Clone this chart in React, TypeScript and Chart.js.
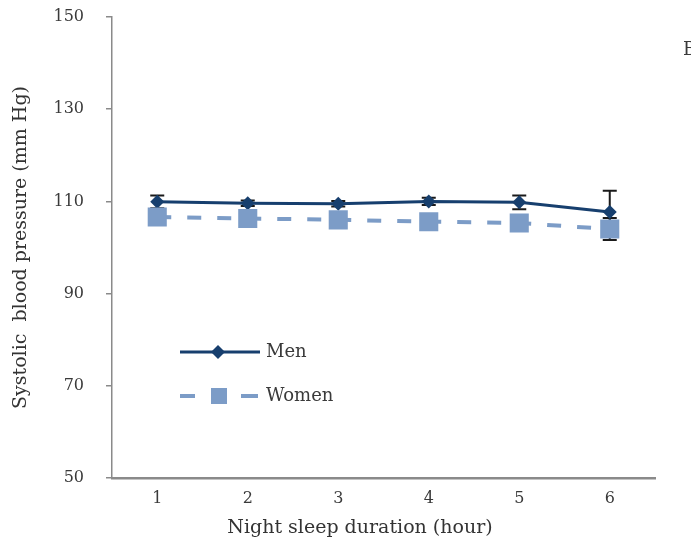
import { useEffect, useRef } from 'react';
import { Chart, registerables } from 'chart.js';

Chart.register(...registerables);

const hours = ['1', '2', '3', '4', '5', '6'];
const menSbp = [109.9, 109.6, 109.5, 110.0, 109.8, 107.7];
const menErr = [1.4, 0.6, 0.6, 0.8, 1.5, 4.6];
const womenSbp = [106.6, 106.3, 106.0, 105.6, 105.3, 104.0];
const womenErr = [1.0, 0.8, 0.8, 0.8, 1.0, 2.4];
const yTicks = [50, 70, 90, 110, 130, 150];

const MEN_COLOR = '#173f6e';
const WOMEN_COLOR = '#7c9cc7';
const FONT = "'DejaVu Serif', serif";

// error bars under the markers
const errorBars = {
  id: 'errorBars',
  beforeDatasetsDraw(chart: any) {
    const { ctx } = chart;
    const x = chart.scales.x;
    const y = chart.scales.y;
    const sets = [
      { vals: menSbp, errs: menErr },
      { vals: womenSbp, errs: womenErr },
    ];
    ctx.save();
    ctx.strokeStyle = '#1a1a1a';
    ctx.lineWidth = 2;
    sets.forEach(s => {
      s.vals.forEach((v, i) => {
        const px = x.getPixelForValue(i);
        const top = y.getPixelForValue(v + s.errs[i]);
        const bot = y.getPixelForValue(v - s.errs[i]);
        ctx.beginPath();
        ctx.moveTo(px, top);
        ctx.lineTo(px, bot);
        ctx.moveTo(px - 7, top);
        ctx.lineTo(px + 7, top);
        ctx.moveTo(px - 7, bot);
        ctx.lineTo(px + 7, bot);
        ctx.stroke();
      });
    });
    ctx.restore();
  },
};

// legend inside the plot, x title, and the cut-off panel letter
const innerLegend = {
  id: 'innerLegend',
  afterDraw(chart: any) {
    const { ctx, chartArea } = chart;
    const left = chartArea.left + 68;
    const menY = chartArea.top + 335;
    const womenY = chartArea.top + 379;
    ctx.save();

    ctx.strokeStyle = MEN_COLOR;
    ctx.lineWidth = 3;
    ctx.beginPath();
    ctx.moveTo(left, menY);
    ctx.lineTo(left + 80, menY);
    ctx.stroke();
    ctx.fillStyle = MEN_COLOR;
    ctx.beginPath();
    ctx.moveTo(left + 38, menY - 7);
    ctx.lineTo(left + 45, menY);
    ctx.lineTo(left + 38, menY + 7);
    ctx.lineTo(left + 31, menY);
    ctx.closePath();
    ctx.fill();

    ctx.strokeStyle = WOMEN_COLOR;
    ctx.lineWidth = 4;
    ctx.beginPath();
    ctx.moveTo(left, womenY);
    ctx.lineTo(left + 15, womenY);
    ctx.moveTo(left + 61, womenY);
    ctx.lineTo(left + 78, womenY);
    ctx.stroke();
    ctx.fillStyle = WOMEN_COLOR;
    ctx.fillRect(left + 31, womenY - 8, 16, 16);

    ctx.fillStyle = '#3a3a3a';
    ctx.font = `18px ${FONT}`;
    ctx.textBaseline = 'middle';
    ctx.textAlign = 'left';
    ctx.fillText('Men', left + 86, menY);
    ctx.fillText('Women', left + 86, womenY);
    ctx.fillText('B', chart.width - 8, 50);

    ctx.fillStyle = '#333';
    ctx.font = `19px ${FONT}`;
    ctx.textAlign = 'center';
    ctx.fillText('Night sleep duration (hour)', chartArea.left + 248, chartArea.bottom + 50);
    ctx.restore();
  },
};

export default function App() {
  const canvasRef = useRef<HTMLCanvasElement>(null);
  const chartRef = useRef<Chart | null>(null);

  useEffect(() => {
    if (!canvasRef.current) return;
    if (chartRef.current) chartRef.current.destroy();

    chartRef.current = new Chart(canvasRef.current, {
      type: 'line',
      data: {
        labels: hours,
        datasets: [
          {
            label: 'Men',
            data: menSbp,
            borderColor: MEN_COLOR,
            backgroundColor: MEN_COLOR,
            borderWidth: 3,
            pointStyle: 'rectRot',
            pointRadius: 7,
            pointBorderWidth: 0,
            order: 2,
          },
          {
            label: 'Women',
            data: womenSbp,
            borderColor: WOMEN_COLOR,
            backgroundColor: WOMEN_COLOR,
            borderWidth: 4,
            borderDash: [14, 16],
            pointStyle: 'rect',
            pointRadius: 13.5,
            pointBorderWidth: 0,
            order: 1,
          },
        ],
      },
      options: {
        responsive: false,
        animation: false,
        layout: { padding: { top: 17, right: 36, left: 0, bottom: 0 } },
        plugins: {
          legend: { display: false },
          tooltip: { enabled: false },
        },
        scales: {
          x: {
            offset: true,
            grid: { display: false, drawTicks: false },
            border: { color: '#8a8a8a', width: 2.5 },
            ticks: {
              color: '#3a3a3a',
              padding: 11,
              font: { family: FONT, size: 16 },
            },
            title: { display: false },
            afterFit(scale: any) {
              scale.height = 74;
              scale.paddingLeft = 0;
              scale.paddingRight = 0;
            },
          },
          y: {
            min: 50,
            max: 150,
            afterBuildTicks(scale: any) {
              scale.ticks = yTicks.map(v => ({ value: v }));
            },
            grid: {
              drawOnChartArea: false,
              tickLength: 6,
              color: '#8a8a8a',
              lineWidth: 1.5,
            },
            border: { color: '#8a8a8a', width: 1.5 },
            ticks: {
              color: '#3a3a3a',
              padding: 22,
              font: { family: FONT, size: 16 },
            },
            title: {
              display: true,
              text: 'Systolic  blood pressure (mm Hg)',
              color: '#333',
              padding: { top: 10, bottom: 0 },
              font: { family: FONT, size: 19 },
            },
            afterFit(scale: any) {
              scale.width = 112;
              scale.paddingTop = 0;
              scale.paddingBottom = 0;
            },
          },
        },
      },
      plugins: [errorBars, innerLegend],
    });

    return () => {
      if (chartRef.current) {
        chartRef.current.destroy();
        chartRef.current = null;
      }
    };
  }, []);

  return (
    <div style={{ position: 'absolute', left: 0, top: 0, width: 691, height: 552, background: '#fff' }}>
      <canvas ref={canvasRef} width={691} height={552} />
    </div>
  );
}
